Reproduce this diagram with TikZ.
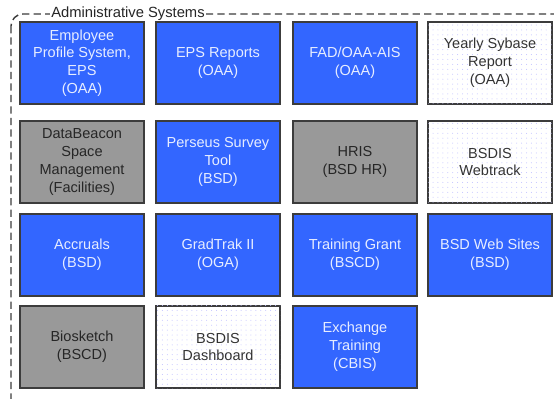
\documentclass[tikz,border=0pt]{standalone}
\usepackage{fontspec}
\setmainfont{Liberation Sans}
\usepackage{xcolor}
\usepackage{tikz}
\usetikzlibrary{patterns.meta}

\definecolor{sysblue}{RGB}{51,102,255}
\definecolor{sysgray}{RGB}{153,153,153}
\definecolor{sysedge}{RGB}{60,60,60}
\definecolor{systext}{RGB}{51,51,51}

\begin{document}
\begin{tikzpicture}[x=0.03cm, y=-0.03cm,
  sysbox/.style={draw=sysedge, line width=0.9pt, rectangle, align=center,
    minimum width=3.72cm, minimum height=2.46cm, inner sep=1pt,
    font=\fontsize{12.4pt}{15.2pt}\selectfont},
  bluebox/.style={sysbox, fill=sysblue, text=white!88!sysblue},
  graybox/.style={sysbox, fill=sysgray, text=black!85},
  dotbox/.style={sysbox, fill=white, text=systext,
    postaction={pattern={Dots[distance=4.2pt, radius=0.42pt]}, pattern color=blue!25}}]
\useasboundingbox (0,0) rectangle (554,399);
\clip (0,0) rectangle (554,399);

% Frame
\draw[sysedge, line width=1.2pt, dash pattern=on 6.2pt off 3.6pt, rounded corners=0.36cm]
  (11,14) rectangle (640,430);
\node[fill=white, inner sep=1.5pt, font=\fontsize{12.6pt}{14pt}\selectfont, text=black!85] (title) at (128,14) {Administrative Systems};

% Row 1
\node[bluebox] (eps) at (82,63) {Employee\\Profile System,\\EPS\\(OAA)};
\node[bluebox] (epsreports) at (218,63) {EPS Reports\\(OAA)};
\node[bluebox] (fad) at (355,63) {FAD/OAA-AIS\\(OAA)};
\node[dotbox] (sybase) at (490,63) {Yearly Sybase\\Report\\(OAA)};

% Row 2
\node[graybox] (databeacon) at (82,162) {DataBeacon\\Space\\Management\\(Facilities)};
\node[bluebox] (perseus) at (218,162) {Perseus Survey\\Tool\\(BSD)};
\node[graybox] (hris) at (355,162) {HRIS\\(BSD HR)};
\node[dotbox] (webtrack) at (490,162) {BSDIS\\Webtrack};

% Row 3
\node[bluebox] (accruals) at (82,255) {Accruals\\(BSD)};
\node[bluebox] (gradtrak) at (218,255) {GradTrak II\\(OGA)};
\node[bluebox] (grant) at (355,255) {Training Grant\\(BSCD)};
\node[bluebox] (websites) at (490,255) {BSD Web Sites\\(BSD)};

% Row 4
\node[graybox] (biosketch) at (82,347) {Biosketch\\(BSCD)};
\node[dotbox] (dashboard) at (218,347) {BSDIS\\Dashboard};
\node[bluebox] (exchange) at (355,347) {Exchange\\Training\\(CBIS)};
\end{tikzpicture}
\end{document}
